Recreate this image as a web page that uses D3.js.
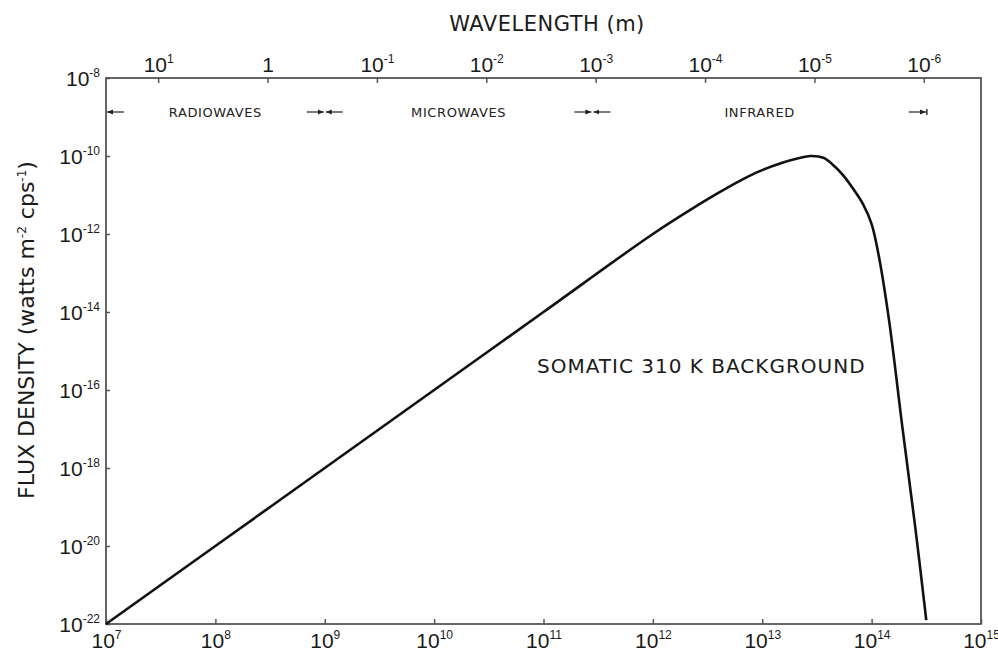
<!DOCTYPE html>
<html>
<head>
<meta charset="utf-8">
<script src="https://cdn.jsdelivr.net/npm/d3@7"></script>
<style>
  body { margin: 0; background: #fff; }
  svg { font-family: "DejaVu Sans", sans-serif; }
</style>
</head>
<body>
<svg id="chart" width="998" height="652"></svg>
<script>
// curve: frequency (Hz) and flux density (W m^-2 Hz^-1)
var frequency = [1e7, 1e8, 1e9, 1e10, 1e11, 1e12, 2.69e12, 4.0e12, 6.3e12, 9.5e12,
    1.55e13, 2.14e13, 2.75e13, 3.63e13, 4.47e13, 5.5e13, 6.9e13, 8.3e13, 1.0e14,
    1.17e14, 1.45e14, 1.9e14, 2.5e14, 3.16e14];
var flux = [1e-22, 1e-20, 1e-18, 1e-16, 1e-14, 1e-12, 5.9e-12, 1.15e-11, 2.35e-11, 4.1e-11,
    6.8e-11, 8.7e-11, 1.0e-10, 9.0e-11, 5.8e-11, 3.2e-11, 1.35e-11, 6.0e-12, 1.8e-12,
    2.5e-13, 5.6e-15, 1.26e-17, 3.2e-20, 1.26e-22];

// axes
var freqTicks = [1e7, 1e8, 1e9, 1e10, 1e11, 1e12, 1e13, 1e14, 1e15];
var fluxTicks = [1e-8, 1e-10, 1e-12, 1e-14, 1e-16, 1e-18, 1e-20, 1e-22];
var waveTicks = [10, 1, 1e-1, 1e-2, 1e-3, 1e-4, 1e-5, 1e-6];

// spectral bands (edges in Hz)
var bandNames = ['RADIOWAVES', 'MICROWAVES', 'INFRARED'];
var bandEdges = [1e7, 1e9, 2.8e11, 3.2e14];

var curveLabel = 'SOMATIC 310 K BACKGROUND';

function main() {
    const left = 106, right = 981, top = 78, bottom = 624;
    const c = 2.998e8;
    const svg = d3.select('#chart');

    const x = d3.scaleLog().domain([1e7, 1e15]).range([left, right]);
    const y = d3.scaleLog().domain([1e-22, 1e-8]).range([bottom, top]);
    const xw = d3.scaleLog().domain([c / 1e7, c / 1e15]).range([left, right]);

    const axisColor = '#555';

    // writes 10 with a raised exponent into a text element
    function powerLabel(sel, v) {
        const e = Math.round(Math.log10(v));
        sel.text(null);
        if (e === 0) { sel.append('tspan').text('1'); return; }
        sel.append('tspan').text('10');
        sel.append('tspan').attr('dy', -9).attr('font-size', 12).text(e);
    }

    // bottom axis
    const gx = svg.append('g')
        .attr('transform', `translate(0,${bottom})`)
        .call(d3.axisBottom(x).tickValues(freqTicks).tickSize(-5).tickPadding(0));
    gx.selectAll('.tick text')
        .attr('y', 24).attr('dy', null)
        .attr('font-size', 21).attr('fill', '#1a1a1a')
        .each(function(d) { powerLabel(d3.select(this), d); });

    // top axis (wavelength)
    const gt = svg.append('g')
        .attr('transform', `translate(0,${top})`)
        .call(d3.axisTop(xw).tickValues(waveTicks).tickSize(-5).tickPadding(0));
    gt.selectAll('.tick text')
        .attr('y', -6).attr('dy', null)
        .attr('font-size', 21).attr('fill', '#1a1a1a')
        .each(function(d) { powerLabel(d3.select(this), d); });

    // left axis
    const gy = svg.append('g')
        .attr('transform', `translate(${left},0)`)
        .call(d3.axisLeft(y).tickValues(fluxTicks).tickSize(-4).tickPadding(0));
    gy.selectAll('.tick text')
        .attr('x', -6).attr('dy', '0.36em')
        .attr('font-size', 21).attr('fill', '#1a1a1a')
        .each(function(d) { powerLabel(d3.select(this), d); });

    [gx, gt, gy].forEach(g => {
        g.select('.domain').remove();
        g.selectAll('.tick line').attr('stroke', axisColor).attr('stroke-width', 1.5);
    });

    // frame
    svg.append('rect')
        .attr('x', left).attr('y', top)
        .attr('width', right - left).attr('height', bottom - top)
        .attr('fill', 'none').attr('stroke', axisColor).attr('stroke-width', 1.8);

    // axis titles
    svg.append('text')
        .attr('x', 547).attr('y', 31)
        .attr('text-anchor', 'middle')
        .attr('font-size', 21).attr('letter-spacing', 0.5).attr('fill', '#1a1a1a')
        .text('WAVELENGTH (m)');

    const yt = svg.append('text')
        .attr('transform', 'translate(34,330) rotate(-90)')
        .attr('text-anchor', 'middle')
        .attr('font-size', 22).attr('fill', '#1a1a1a');
    yt.append('tspan').text('FLUX DENSITY (watts m');
    yt.append('tspan').attr('dy', -8).attr('font-size', 12).text('-2');
    yt.append('tspan').attr('dy', 8).text(' cps');
    yt.append('tspan').attr('dy', -8).attr('font-size', 12).text('-1');
    yt.append('tspan').attr('dy', 8).text(')');

    // band labels and arrows
    const bandY = 112;
    svg.append('defs').append('marker')
        .attr('id', 'head')
        .attr('viewBox', '0 0 6 6')
        .attr('refX', 6).attr('refY', 3)
        .attr('markerWidth', 6).attr('markerHeight', 6)
        .attr('markerUnits', 'userSpaceOnUse')
        .attr('orient', 'auto')
        .append('path').attr('d', 'M0,0.5 L6,3 L0,5.5 Z').attr('fill', '#222');

    bandNames.forEach(function(name, i) {
        const x0 = x(bandEdges[i]), x1 = x(bandEdges[i + 1]);
        const mid = x(Math.sqrt(bandEdges[i] * bandEdges[i + 1]));
        svg.append('text')
            .attr('x', mid).attr('y', bandY + 5)
            .attr('text-anchor', 'middle')
            .attr('font-size', 13).attr('letter-spacing', 0.6).attr('fill', '#222')
            .text(name);
        // arrow to the left edge of the band
        svg.append('line')
            .attr('x1', x0 + 18).attr('x2', x0 + 1)
            .attr('y1', bandY).attr('y2', bandY)
            .attr('stroke', '#222').attr('stroke-width', 1.2)
            .attr('marker-end', 'url(#head)');
        // arrow to the right edge of the band
        svg.append('line')
            .attr('x1', x1 - 18).attr('x2', x1 - 1)
            .attr('y1', bandY).attr('y2', bandY)
            .attr('stroke', '#222').attr('stroke-width', 1.2)
            .attr('marker-end', 'url(#head)');
    });
    // end bar of the last band
    const xe = x(bandEdges[bandEdges.length - 1]);
    svg.append('line')
        .attr('x1', xe).attr('x2', xe)
        .attr('y1', bandY - 3).attr('y2', bandY + 3)
        .attr('stroke', '#222').attr('stroke-width', 1.4);

    // curve
    const data = frequency.map((f, i) => ({f: f, v: flux[i]}));
    svg.append('path')
        .datum(data)
        .attr('fill', 'none')
        .attr('stroke', '#111')
        .attr('stroke-width', 2.6)
        .attr('d', d3.line()
            .x(d => x(d.f))
            .y(d => y(d.v))
            .curve(d3.curveCatmullRom.alpha(0.5)));

    svg.append('text')
        .attr('x', 537).attr('y', 373)
        .attr('font-size', 20).attr('letter-spacing', 1).attr('fill', '#1a1a1a')
        .text(curveLabel);
}

main();
</script>
</body>
</html>
